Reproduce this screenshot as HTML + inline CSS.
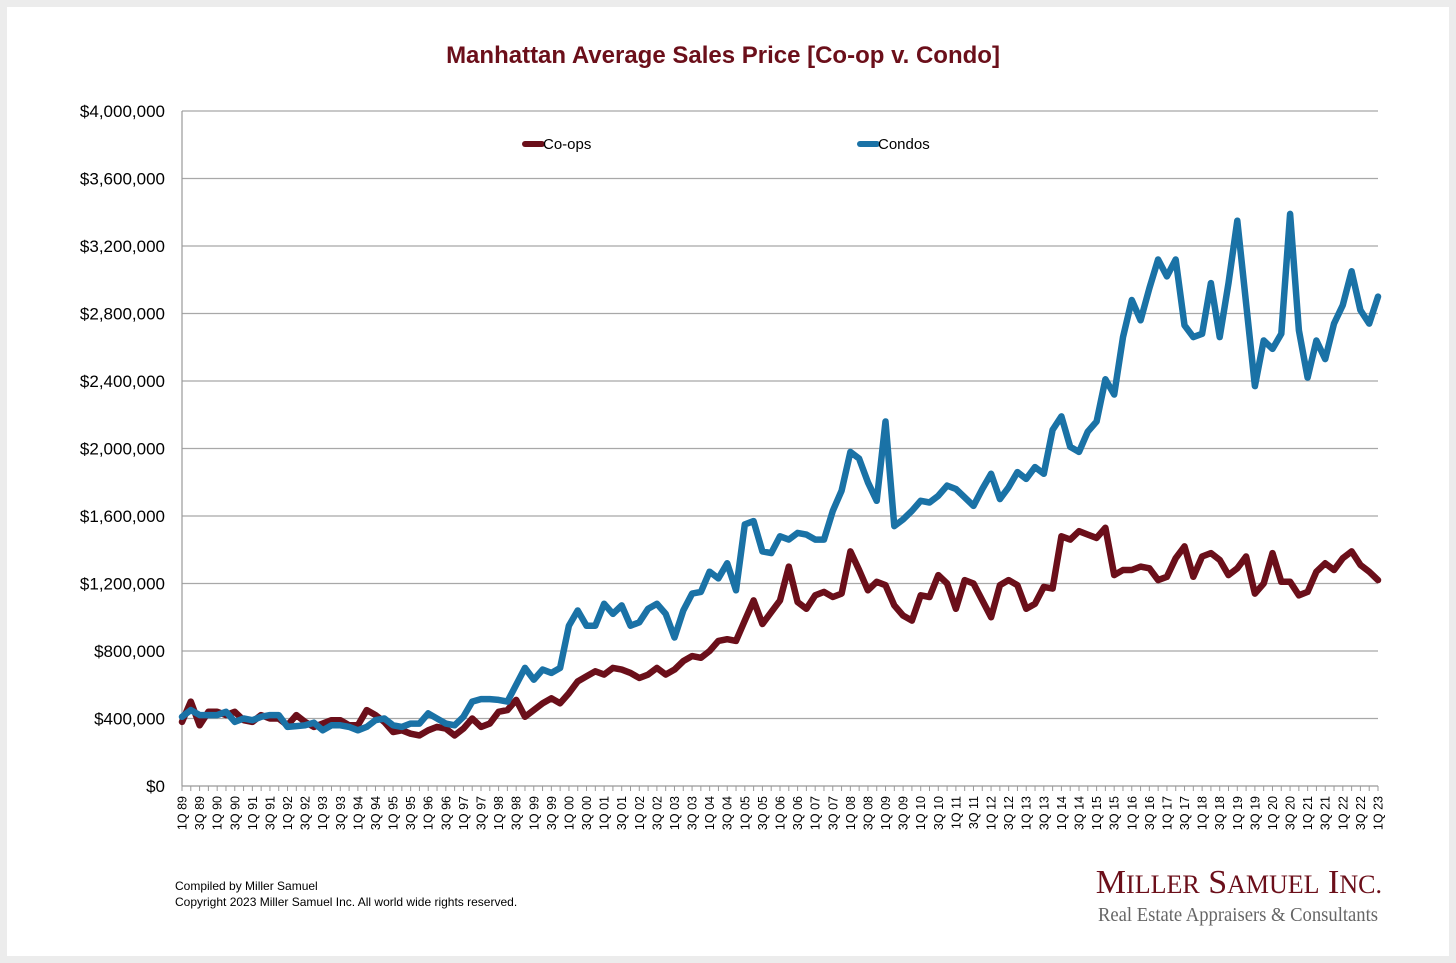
<!DOCTYPE html>
<html><head><meta charset="utf-8"><style>
body{margin:0;background:#ececec;}
svg{display:block;font-family:"Liberation Sans",Arial,sans-serif;}
</style></head><body>
<svg id="chart" width="1456" height="963" xmlns="http://www.w3.org/2000/svg">
<rect x="7" y="7" width="1442" height="949" fill="#fff"/>
<text x="723" y="63" text-anchor="middle" font-size="24" font-weight="bold" fill="#6b0f1a">Manhattan Average Sales Price [Co-op v. Condo]</text>
<g id="grid"></g>
<g id="yaxis"></g>
<g id="xaxis"></g>
<g id="series"></g>
<g>
<line x1="525" y1="144" x2="542" y2="144" stroke="#6b0f1a" stroke-width="6" stroke-linecap="round"/>
<text x="543" y="149" font-size="15" fill="#000">Co-ops</text>
<line x1="860" y1="144" x2="877" y2="144" stroke="#1a72a6" stroke-width="6" stroke-linecap="round"/>
<text x="878" y="149" font-size="15" fill="#000">Condos</text>
</g>
<text x="175" y="890" font-size="12" fill="#000">Compiled by Miller Samuel</text>
<text x="175" y="906" font-size="12" fill="#000">Copyright 2023 Miller Samuel Inc.  All world wide rights reserved.</text>
<text x="1382" y="893" text-anchor="end" font-family="Liberation Serif,serif" font-size="34" fill="#6b0f1a">M<tspan font-size="26">ILLER</tspan> S<tspan font-size="26">AMUEL</tspan> I<tspan font-size="26">NC.</tspan></text>
<text x="1098" y="921" textLength="280" lengthAdjust="spacingAndGlyphs" font-family="Liberation Serif,serif" font-size="20" fill="#666">Real Estate Appraisers &amp; Consultants</text>
</svg>
<script>
const yTicks=[0,400000,800000,1200000,1600000,2000000,2400000,2800000,3200000,3600000,4000000];
const coops=[380,500,360,440,440,420,440,390,380,420,400,400,360,420,380,350,370,390,390,360,360,450,420,380,320,330,310,300,330,350,340,300,340,400,350,370,440,450,510,410,450,490,520,490,550,620,650,680,660,700,690,670,640,660,700,660,690,740,770,760,800,860,870,860,980,1100,960,1030,1100,1300,1090,1050,1130,1150,1120,1140,1390,1280,1160,1210,1190,1070,1010,980,1130,1120,1250,1200,1050,1220,1200,1100,1000,1190,1220,1190,1050,1080,1180,1170,1480,1460,1510,1490,1470,1530,1250,1280,1280,1300,1290,1220,1240,1350,1420,1240,1360,1380,1340,1250,1290,1360,1140,1200,1380,1210,1210,1130,1150,1270,1320,1280,1350,1390,1310,1270,1220];
const condos=[410,450,420,420,420,440,380,400,390,410,420,420,350,355,360,375,330,360,360,350,330,350,390,400,360,350,370,370,430,400,370,360,410,500,515,515,510,500,600,700,630,690,670,700,950,1040,950,950,1080,1020,1070,950,970,1050,1080,1020,880,1040,1140,1150,1270,1230,1320,1160,1550,1570,1390,1380,1480,1460,1500,1490,1460,1460,1630,1750,1980,1940,1800,1690,2160,1540,1580,1630,1690,1680,1720,1780,1760,1710,1660,1760,1850,1700,1770,1860,1820,1890,1850,2110,2190,2010,1980,2100,2160,2410,2320,2660,2880,2760,2950,3120,3020,3120,2730,2660,2680,2980,2660,2980,3350,2860,2370,2640,2590,2680,3390,2700,2420,2640,2530,2740,2850,3050,2820,2740,2900];
const startYear=1989;
const NS="http://www.w3.org/2000/svg";
const X0=182,X1=1378,Y0=786,Y1=111;
const n=coops.length;
const xs=i=>X0+(X1-X0)*i/(n-1);
const ys=v=>Y0-(Y0-Y1)*v/4000000;
function mk(t,a,p){const e=document.createElementNS(NS,t);for(const k in a)e.setAttribute(k,a[k]);p.appendChild(e);return e;}
const grid=document.getElementById('grid'),ya=document.getElementById('yaxis'),xa=document.getElementById('xaxis'),se=document.getElementById('series');
yTicks.forEach(v=>{
 const y=ys(v);
 if(v>0){const l=mk('line',{x1:X0,x2:X1,y1:y,y2:y,stroke:'#a8a8a8','stroke-width':1.2},grid);
 
 }
 const t=mk('text',{x:165,y:y+6,'text-anchor':'end','font-size':17,fill:'#000'},ya);
 t.textContent='$'+v.toLocaleString('en-US');
 
 
});
const ax=mk('line',{x1:X0,x2:X0,y1:Y1,y2:Y0,stroke:'#999','stroke-width':1.2},ya);


const bx=mk('line',{x1:X0,x2:X1,y1:Y0,y2:Y0,stroke:'#999','stroke-width':1.2},xa);


for(let i=0;i<n;i++){
 const x=xs(i);
 const tk=mk('line',{x1:x,x2:x,y1:Y0,y2:Y0+5,stroke:'#999'},xa);
 
 
 if(i%2===0){
  const q=(i%4)+1,yr=(startYear+Math.floor(i/4))%100;
  const t=mk('text',{x:0,y:0,'text-anchor':'end','font-size':12.5,fill:'#000',transform:`translate(${x+4.5},${Y0+10}) rotate(-90)`},xa);
  t.textContent=q+'Q '+String(yr).padStart(2,'0');
  
  
 }
}
function line(data,color,name){
 const d=data.map((v,i)=>(i?'L':'M')+xs(i).toFixed(1)+','+ys(v*1000).toFixed(1)).join('');
 const p=mk('path',{d:d,fill:'none',stroke:color,'stroke-width':6.5,'stroke-linejoin':'round','stroke-linecap':'round'},se);
 
 
}
line(coops,'#6b0f1a','coops-line');
line(condos,'#1a72a6','condos-line');
</script>
</body></html>
